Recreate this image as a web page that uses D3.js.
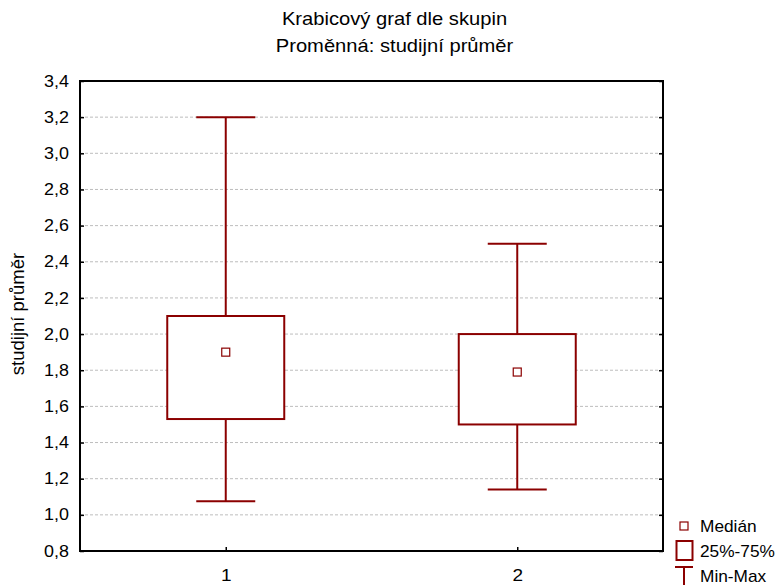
<!DOCTYPE html>
<html>
<head>
<meta charset="utf-8">
<script src="https://cdn.jsdelivr.net/npm/d3@7"></script>
<style>
  html, body { margin: 0; padding: 0; background: #fff; }
  svg { display: block; }
  text { font-family: "Liberation Sans", Arial, sans-serif; fill: #000; }
</style>
</head>
<body>
<svg id="chart" width="781" height="585"></svg>
<script>
// Groups and their five-number summaries
const groups = ["1", "2"];
const minValues = [1.075, 1.14];
const q1Values = [1.53, 1.50];
const medianValues = [1.90, 1.79];
const q3Values = [2.10, 2.00];
const maxValues = [3.20, 2.50];

const yTicks = [0.8, 1.0, 1.2, 1.4, 1.6, 1.8, 2.0, 2.2, 2.4, 2.6, 2.8, 3.0, 3.2, 3.4];
const titleLines = ["Krabicový graf dle skupin", "Proměnná: studijní průměr"];
const yLabel = "studijní průměr";
const legendLabels = ["Medián", "25%-75%", "Min-Max"];

const color = "#8b0000";
const svg = d3.select("#chart");
const margin = { left: 80, right: 118, top: 81, bottom: 34 };
const W = 781, H = 585;
const plotW = W - margin.left - margin.right;
const plotH = H - margin.top - margin.bottom;
const fmt = v => d3.format(".1f")(v).replace(".", ",");
const sx = 1.12; // horizontal glyph stretch

const x = d3.scalePoint().domain(groups).range([margin.left, margin.left + plotW]).padding(0.5);
const y = d3.scaleLinear().domain([0.8, 3.4]).range([margin.top + plotH, margin.top]);

// Titles
titleLines.forEach((t, i) => {
  svg.append("text")
    .attr("transform", `translate(${W / 2 + 4},${25 + i * 27}) scale(${sx},1)`)
    .attr("text-anchor", "middle")
    .style("font-size", "18px")
    .text(t);
});

// Grid lines
svg.append("g")
  .selectAll("line")
  .data(yTicks.slice(1, -1))
  .join("line")
  .attr("x1", margin.left).attr("x2", margin.left + plotW)
  .attr("y1", d => y(d)).attr("y2", d => y(d))
  .attr("stroke", "#bdbdbd").attr("stroke-width", 1)
  .attr("stroke-dasharray", "3,2");

// Y axis ticks and labels (ticks point inward)
const yAxis = d3.axisLeft(y).tickValues(yTicks).tickSize(-4).tickPadding(12).tickFormat(fmt);
const gy = svg.append("g").attr("transform", `translate(${margin.left},0)`).call(yAxis);
gy.select(".domain").remove();
gy.selectAll(".tick line").attr("stroke", "#000").attr("stroke-width", 1.5);
gy.selectAll(".tick text").style("font-size", "16px").attr("font-family", null)
  .attr("transform", `scale(${sx},1)`).attr("x", -11 / sx);

// Right side ticks
const yAxisR = d3.axisRight(y).tickValues(yTicks).tickSize(-4).tickFormat("");
const gyr = svg.append("g").attr("transform", `translate(${margin.left + plotW},0)`).call(yAxisR);
gyr.select(".domain").remove();
gyr.selectAll(".tick line").attr("stroke", "#000").attr("stroke-width", 1.5);

// X axis
const xAxis = d3.axisBottom(x).tickSize(-4).tickPadding(18);
const gx = svg.append("g").attr("transform", `translate(0,${margin.top + plotH})`).call(xAxis);
gx.select(".domain").remove();
gx.selectAll(".tick line").attr("stroke", "#000").attr("stroke-width", 1.5);
gx.selectAll(".tick text").style("font-size", "17px").attr("font-family", null)
  .attr("transform", `scale(${sx},1)`);

// Frame
svg.append("rect")
  .attr("x", margin.left).attr("y", margin.top)
  .attr("width", plotW).attr("height", plotH)
  .attr("fill", "none").attr("stroke", "#000").attr("stroke-width", 2);

// Y axis title
svg.append("text")
  .attr("transform", `translate(24,${margin.top + plotH / 2 - 2}) rotate(-90)`)
  .attr("text-anchor", "middle")
  .style("font-size", "18.5px")
  .text(yLabel);

// Boxes
const boxW = 117, capW = 59;
const g = svg.append("g");
groups.forEach((grp, i) => {
  const cx = x(grp);
  // whiskers
  g.append("line").attr("x1", cx).attr("x2", cx)
    .attr("y1", y(maxValues[i])).attr("y2", y(q3Values[i]))
    .attr("stroke", color).attr("stroke-width", 2);
  g.append("line").attr("x1", cx).attr("x2", cx)
    .attr("y1", y(q1Values[i])).attr("y2", y(minValues[i]))
    .attr("stroke", color).attr("stroke-width", 2);
  g.append("line").attr("x1", cx - capW / 2).attr("x2", cx + capW / 2)
    .attr("y1", y(maxValues[i])).attr("y2", y(maxValues[i]))
    .attr("stroke", color).attr("stroke-width", 2);
  g.append("line").attr("x1", cx - capW / 2).attr("x2", cx + capW / 2)
    .attr("y1", y(minValues[i])).attr("y2", y(minValues[i]))
    .attr("stroke", color).attr("stroke-width", 2);
  // box
  g.append("rect")
    .attr("x", cx - boxW / 2).attr("y", y(q3Values[i]))
    .attr("width", boxW).attr("height", y(q1Values[i]) - y(q3Values[i]))
    .attr("fill", "#fff").attr("stroke", color).attr("stroke-width", 2);
  // median marker
  g.append("rect")
    .attr("x", cx - 4).attr("y", y(medianValues[i]) - 4)
    .attr("width", 8).attr("height", 8)
    .attr("fill", "#fff").attr("stroke", color).attr("stroke-width", 1.2);
});

// Legend
const lg = svg.append("g");
lg.append("rect").attr("x", 680).attr("y", 522).attr("width", 8).attr("height", 8)
  .attr("fill", "#fff").attr("stroke", color).attr("stroke-width", 1.2);
lg.append("rect").attr("x", 676.5).attr("y", 541).attr("width", 16).attr("height", 19)
  .attr("fill", "#fff").attr("stroke", color).attr("stroke-width", 2);
lg.append("line").attr("x1", 675).attr("x2", 693).attr("y1", 567).attr("y2", 567)
  .attr("stroke", color).attr("stroke-width", 2);
lg.append("line").attr("x1", 684).attr("x2", 684).attr("y1", 567).attr("y2", 585)
  .attr("stroke", color).attr("stroke-width", 2);
legendLabels.forEach((t, i) => {
  lg.append("text")
    .attr("transform", `translate(700,${532 + i * 25}) scale(1.08,1)`)
    .style("font-size", "16px")
    .text(t);
});
</script>
</body>
</html>
